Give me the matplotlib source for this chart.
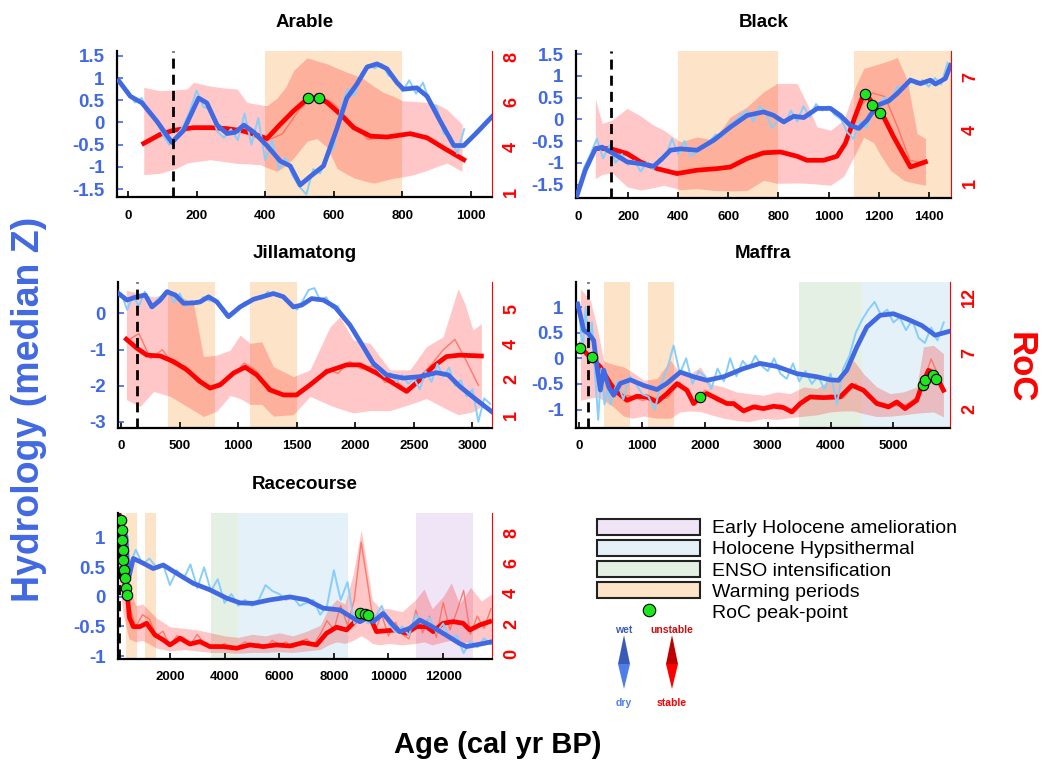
import numpy as np
import matplotlib.pyplot as plt
from matplotlib.patches import Patch, Polygon
from matplotlib.lines import Line2D
from matplotlib.ticker import FuncFormatter

plt.rcParams['font.family'] = ['Liberation Sans', 'DejaVu Sans']
plt.rcParams['font.weight'] = 'bold'
plt.rcParams['axes.unicode_minus'] = False

BLUE = '#4169E1'
SKY = '#87CEFA'
RED = '#FF0000'
RED_RAW = '#FF6A5A'
GREEN = '#1EE61E'
C_WARM = '#FDE4C8'
C_ENSO = '#E5F0E4'
C_HYPS = '#E4F1F8'
C_EARLY = '#F0E4F7'

# climate periods (cal yr BP)
warming = [(400, 800), (1100, 1500)]
enso = (3500, 4500)
hypsithermal = (4500, 8500)
early_holocene = (11000, 13100)
settlement = 130

# ---------------- Arable ----------------
arable_hyd_x = [-27, 7, 41, 85, 128, 162, 206, 230, 260, 289, 313, 338, 367, 405, 444, 473, 502,
                531, 570, 609, 638, 667, 697, 726, 755, 784, 803, 842, 872, 911, 950, 979, 1018, 1061]
arable_hyd = [0.94, 0.59, 0.44, 0.02, -0.45, -0.18, 0.55, 0.44, -0.06, -0.25, -0.22, -0.06, -0.22,
              -0.52, -0.87, -0.98, -1.41, -1.22, -0.98, -0.14, 0.55, 0.86, 1.25, 1.32, 1.21, 0.9,
              0.75, 0.78, 0.59, 0.02, -0.52, -0.52, -0.22, 0.13]
arable_raw_x = np.arange(0, 1000, 20)
arable_raw = [0.72, 0.45, 0.55, 0.22, 0.1, -0.25, -0.5, -0.3, -0.1, 0.25, 0.72, 0.35, 0.3, -0.2,
              -0.35, -0.15, -0.4, 0.2, -0.5, 0.1, -0.85, -0.4, -1.05, -0.8, -1.2, -1.45, -1.62,
              -1.05, -1.15, -0.8, -0.55, 0.3, 0.75, 0.6, 1.1, 1.3, 1.22, 1.32, 1.05, 1.0, 0.7, 0.95,
              0.65, 0.9, 0.45, 0.35, -0.25, -0.3, -0.7, -0.15]
arable_roc_x = [46, 94, 133, 191, 240, 289, 337, 376, 405, 444, 483, 522, 551, 580, 619, 658, 707,
                755, 823, 872, 920, 979]
arable_roc = [3.79, 4.27, 4.49, 4.63, 4.63, 4.58, 4.45, 4.23, 4.05, 4.81, 5.53, 6.15, 6.24, 5.98,
              5.35, 4.63, 4.18, 4.13, 4.31, 4.09, 3.55, 2.92]
arable_rocraw_x = np.arange(50, 1000, 50)
arable_rocraw = [3.8, 4.25, 4.6, 4.65, 4.6, 4.5, 4.3, 3.9, 4.3, 5.6, 6.45, 5.9, 4.9, 4.0, 4.15,
                 4.3, 4.25, 3.8, 3.2]
arable_band_x = [46, 94, 140, 172, 191, 240, 280, 318, 347, 386, 405, 434, 460, 483, 522, 550, 580,
                 610, 638, 660, 687, 716, 745, 775, 800, 833, 872, 900, 930, 974]
arable_band_hi = [6.78, 6.6, 6.65, 6.69, 7.05, 6.85, 6.75, 6.69, 5.98, 5.85, 5.8, 6.2, 6.8, 7.68,
                  8.36, 8.2, 8.04, 7.8, 7.59, 7.45, 7.23, 6.85, 6.51, 6.3, 6.07, 6.03, 5.98, 5.9,
                  5.6, 4.81]
arable_band_lo = [2.12, 2.2, 2.45, 2.74, 2.8, 2.92, 2.82, 2.72, 2.7, 2.65, 2.5, 2.3, 2.6, 3.01,
                  3.9, 4.05, 3.6, 2.45, 2.15, 1.94, 1.8, 1.67, 1.8, 1.94, 2.0, 2.12, 2.35, 2.55,
                  2.74, 2.3]
arable_peak_x = [525, 556]
arable_peak = [6.2, 6.2]

# ---------------- Black ----------------
black_hyd_x = [-4, 29, 69, 96, 142, 196, 249, 302, 335, 369, 409, 475, 542, 608, 675, 741, 781,
               821, 861, 901, 955, 1008, 1047, 1087, 1121, 1154, 1194, 1240, 1274, 1327, 1367,
               1407, 1427, 1467, 1487]
black_hyd = [-1.75, -1.17, -0.68, -0.64, -0.79, -0.98, -1.02, -1.08, -0.91, -0.71, -0.68, -0.71,
             -0.48, -0.18, 0.09, 0.17, 0.09, -0.06, 0.07, 0.04, 0.25, 0.25, 0.09, -0.14, -0.21,
             -0.02, 0.32, 0.42, 0.59, 0.9, 0.82, 0.9, 0.81, 0.94, 1.24]
black_raw_x = np.arange(0, 1500, 25)
black_raw = [-1.6, -1.1, -0.8, -0.45, -0.9, -0.6, -1.0, -0.8, -1.05, -0.95, -1.2, -1.0, -1.15,
             -0.9, -0.85, -0.45, -0.8, -0.5, -0.85, -0.75, -0.6, -0.5, -0.35, -0.4, -0.15, -0.05,
             0.1, 0.2, -0.05, 0.3, 0.15, -0.2, 0.0, -0.1, 0.2, -0.05, 0.3, 0.05, 0.35, 0.2, 0.3,
             0.1, 0.0, -0.3, -0.45, -0.05, -0.2, 0.15, 0.35, 0.5, 0.45, 0.75, 0.7, 0.95, 0.8, 0.9,
             0.75, 0.95, 0.8, 1.3]
black_roc_x = [69, 129, 196, 249, 315, 395, 475, 555, 608, 675, 741, 808, 874, 914, 981, 1034,
               1067, 1101, 1141, 1154, 1180, 1220, 1260, 1327, 1387]
black_roc = [2.96, 2.96, 2.68, 2.21, 1.83, 1.55, 1.74, 1.83, 1.92, 2.40, 2.72, 2.77, 2.53, 2.30,
             2.30, 2.53, 3.25, 4.57, 6.08, 5.98, 5.42, 4.75, 3.62, 1.92, 2.21]
black_rocraw_x = np.arange(75, 1400, 50)
black_rocraw = [3.0, 3.05, 2.7, 2.35, 1.95, 1.75, 1.6, 1.55, 1.75, 1.8, 1.9, 2.0, 2.45, 2.7, 2.8,
                2.65, 2.5, 2.3, 2.25, 2.5, 3.4, 5.3, 6.1, 5.9, 4.2, 2.3, 2.15]
black_band_x = [69, 96, 136, 196, 250, 300, 342, 409, 475, 542, 608, 675, 741, 795, 874, 914, 954,
                1008, 1061, 1107, 1141, 1180, 1207, 1247, 1274, 1300, 1314, 1354, 1387]
black_band_hi = [5.79, 4.38, 4.57, 5.23, 4.8, 4.3, 4.0, 3.34, 3.62, 3.45, 4.75, 5.32, 6.17, 6.64,
                 6.64, 5.51, 4.19, 4.0, 4.57, 6.45, 7.49, 7.65, 7.77, 7.95, 8.11, 7.3, 6.83, 3.81,
                 3.53]
black_band_lo = [1.26, 1.5, 1.6, 0.8, 0.62, 0.75, 0.89, 0.64, 0.7, 0.6, 0.57, 0.6, 1.17, 1.0, 1.02,
                 1.0, 0.96, 0.89, 1.4, 2.65, 3.6, 3.3, 2.6, 1.74, 1.45, 1.17, 1.1, 0.98, 0.89]
black_peak_x = [1147, 1174, 1207]
black_peak = [6.02, 5.42, 4.98]

# ---------------- Jillamatong ----------------
jill_hyd_x = [-23, 48, 134, 205, 262, 333, 390, 461, 532, 617, 674, 745, 816, 916, 1015, 1129,
              1299, 1385, 1470, 1541, 1626, 1726, 1825, 1953, 2067, 2152, 2266, 2408, 2550, 2692,
              2792, 2891, 3033, 3161]
jill_hyd = [0.55, 0.37, 0.46, 0.51, 0.18, 0.37, 0.6, 0.51, 0.28, 0.29, 0.32, 0.46, 0.32, -0.09,
            0.18, 0.39, 0.55, 0.46, 0.18, 0.23, 0.41, 0.37, 0.18, -0.32, -0.92, -1.38, -1.7, -1.79,
            -1.75, -1.64, -1.7, -2.02, -2.39, -2.71]
jill_raw_x = np.arange(0, 3200, 50)
jill_raw = [0.55, 0.1, 0.5, 0.2, 0.6, 0.15, 0.35, 0.5, 0.65, 0.3, 0.55, 0.2, 0.35, 0.25, 0.45, 0.35,
            0.4, 0.15, -0.1, 0.05, 0.1, 0.3, 0.35, 0.45, 0.4, 0.6, 0.5, 0.55, 0.35, 0.3, 0.1, 0.35,
            0.65, 0.7, 0.35, 0.45, 0.15, 0.2, -0.15, -0.3, -0.5, -0.85, -1.2, -1.35, -1.6, -1.75,
            -1.65, -1.9, -1.7, -1.95, -1.8, -2.1, -1.6, -1.9, -1.4, -1.75, -1.5, -2.0, -1.85, -2.3,
            -2.1, -3.0, -2.35, -2.5]
jill_roc_x = [43, 134, 219, 333, 446, 560, 674, 759, 844, 958, 1058, 1157, 1271, 1385, 1498, 1612,
              1754, 1925, 2039, 2181, 2323, 2437, 2550, 2664, 2778, 2891, 3076]
jill_roc = [3.76, 3.45, 3.22, 3.19, 3.0, 2.72, 2.32, 2.1, 2.21, 2.61, 2.81, 2.55, 2.04, 1.87, 1.87,
            2.21, 2.66, 2.89, 2.89, 2.61, 2.27, 1.99, 2.38, 2.83, 3.17, 3.22, 3.19]
jill_rocraw_x = np.arange(50, 3100, 100)
jill_rocraw = [3.7, 3.95, 3.1, 3.4, 2.9, 2.85, 2.3, 2.15, 2.3, 2.5, 2.95, 2.7, 2.0, 1.95, 1.8, 2.1,
               2.25, 2.75, 2.6, 3.0, 2.75, 2.85, 2.3, 2.35, 1.95, 2.5, 2.9, 3.4, 3.75, 3.0, 2.2]
jill_band_x = [43, 162, 276, 418, 560, 617, 702, 816, 930, 1015, 1100, 1200, 1299, 1470, 1612,
               1783, 1868, 1982, 2124, 2295, 2465, 2607, 2749, 2877, 2934, 3005, 3076]
jill_band_hi = [5.42, 5.31, 5.19, 5.36, 5.1, 4.97, 3.17, 3.22, 3.39, 3.9, 3.62, 3.67, 2.83, 2.49,
                2.72, 4.18, 4.52, 3.73, 3.62, 2.72, 2.72, 3.51, 3.84, 5.47, 4.97, 4.07, 4.29]
jill_band_lo = [1.71, 1.48, 1.99, 1.82, 1.48, 1.35, 1.14, 1.32, 1.85, 1.75, 1.55, 1.55, 1.15, 1.2,
                1.82, 1.52, 1.4, 1.26, 1.34, 1.34, 1.55, 1.75, 1.45, 1.2, 1.24, 1.3, 1.48]
jill_peak_x = []
jill_peak = []

# ---------------- Maffra ----------------
maffra_hyd_x = [-27, 69, 148, 228, 281, 334, 387, 467, 546, 652, 811, 1023, 1235, 1394, 1607, 1819,
                2031, 2296, 2614, 2879, 3144, 3462, 3780, 3992, 4125, 4258, 4417, 4576, 4788, 4999,
                5212, 5451, 5663, 5901]
maffra_hyd = [1.06, 0.55, 0.48, 0.35, -0.17, -0.62, -0.23, -0.56, -0.72, -0.49, -0.42, -0.53,
              -0.61, -0.49, -0.27, -0.36, -0.43, -0.36, -0.2, -0.1, -0.16, -0.3, -0.36, -0.42,
              -0.43, -0.23, 0.22, 0.61, 0.84, 0.87, 0.77, 0.64, 0.45, 0.53]
maffra_raw_x = list(range(0, 500, 50)) + list(range(500, 5900, 100))
maffra_raw = [0.9, 0.1, 1.0, 0.2, 0.7, -0.3, -1.2, -0.2, -0.9, -0.6, -0.9, -0.45, -0.8, -0.35,
              -0.5, -0.7, -0.75, -1.0, -0.5, -0.2, 0.25, -0.3, 0.0, -0.5, -0.25, -0.35, -0.6, -0.2,
              -0.45, 0.0, -0.35, -0.05, -0.2, 0.05, -0.15, -0.25, 0.0, -0.3, -0.4, -0.1, -0.45,
              -0.25, -0.5, -0.35, -0.6, -0.3, -0.9, -0.2, 0.05, 0.5, 0.75, 0.95, 1.1, 0.85, 0.95,
              0.7, 0.8, 0.55, 0.75, 0.4, 0.3, 0.6, 0.35, 0.7]
maffra_roc_x = [16, 201, 334, 493, 599, 758, 917, 1076, 1235, 1395, 1554, 1713, 1819, 1925, 2031,
                2190, 2349, 2455, 2614, 2773, 2932, 3091, 3250, 3383, 3515, 3674, 3886, 4152, 4337,
                4523, 4735, 4921, 5053, 5186, 5371, 5451, 5557, 5663, 5796]
maffra_roc = [7.5, 6.52, 5.78, 4.29, 3.55, 2.8, 3.16, 3.1, 2.65, 3.4, 4.29, 3.7, 2.51, 3.1, 3.4,
              2.95, 2.51, 2.51, 1.85, 2.21, 2.06, 2.27, 2.15, 1.76, 2.51, 3.1, 3.04, 3.1, 4.14, 3.7,
              2.51, 2.21, 2.65, 2.06, 2.8, 4.14, 5.48, 5.18, 3.7]
maffra_rocraw_x = np.arange(0, 5900, 200)
maffra_rocraw = [8.0, 6.2, 5.4, 3.3, 3.2, 2.8, 3.0, 3.0, 4.4, 2.6, 3.7, 2.7, 2.6, 1.8, 2.4, 2.0,
                 2.4, 1.7, 3.1, 2.9, 3.3, 3.0, 4.3, 3.0, 2.6, 2.3, 2.4, 3.2, 6.5, 3.9]
maffra_band_x = [16, 175, 281, 387, 546, 700, 850, 1023, 1235, 1448, 1607, 1750, 1925, 2100, 2296,
                 2500, 2700, 2932, 3144, 3356, 3568, 3780, 3992, 4204, 4363, 4523, 4735, 4947,
                 5159, 5371, 5477, 5637, 5796]
maffra_band_hi = [12.77, 11.73, 9.35, 6.3, 6.0, 5.8, 5.3, 4.59, 4.74, 6.38, 5.2, 5.1, 5.78, 4.25,
                  3.99, 3.55, 3.4, 3.25, 3.55, 3.4, 3.99, 3.85, 4.59, 4.89, 6.38, 5.18, 3.99, 3.4,
                  3.55, 3.99, 7.57, 7.71, 6.97]
maffra_band_lo = [2.8, 3.0, 3.1, 2.8, 2.21, 1.4, 1.2, 1.4, 1.2, 1.2, 1.76, 1.85, 1.8, 1.5, 1.2, 1.0,
                  0.9, 1.17, 1.1, 1.25, 1.38, 1.5, 1.76, 1.85, 1.85, 1.61, 1.35, 1.38, 1.5, 1.65,
                  1.7, 1.76, 1.32]
maffra_peak_x = [16, 201, 1925, 5467, 5504, 5637, 5679]
maffra_peak = [7.5, 6.67, 3.1, 4.14, 4.59, 5.04, 4.74]

# ---------------- Racecourse ----------------
race_hyd_x = [146, 268, 390, 476, 659, 1024, 1390, 1756, 2244, 2854, 3463, 4073, 4561, 5049, 5659,
              6390, 7000, 7610, 8220, 8707, 8951, 9195, 9439, 9805, 10171, 10415, 10780, 11146,
              11512, 12122, 12610, 12854, 13341, 13768]
race_hyd = [1.19, 1.14, 1.02, 0.29, 0.65, 0.57, 0.48, 0.54, 0.4, 0.23, 0.12, -0.02, -0.1, -0.11,
            -0.05, 0.0, -0.05, -0.19, -0.22, -0.36, -0.42, -0.36, -0.42, -0.28, -0.48, -0.59,
            -0.53, -0.39, -0.48, -0.65, -0.79, -0.84, -0.8, -0.76]
race_raw_x = [120] + list(range(250, 14000, 250))
race_raw = [1.3, 0.9, 0.5, 0.8, 0.55, 0.65, 0.5, 0.55, 0.2, 0.45, 0.3, 0.55, 0.15, 0.5, 0.1, 0.3,
            -0.1, 0.05, -0.15, -0.05, -0.15, -0.05, 0.2, 0.1, 0.05, -0.05, 0.0, -0.15, -0.1, -0.05,
            -0.3, -0.15, 0.45, -0.05, 0.25, -0.45, -0.3, -0.45, -0.35, -0.15, -0.45, -0.6, -0.5,
            -0.65, -0.3, -0.45, -0.35, -0.6, -0.45, -0.7, -0.65, -0.95, -0.75, -0.85, -0.7, -0.8]
race_roc_x = [150, 195, 268, 354, 439, 520, 659, 902, 1146, 1451, 1756, 2000, 2366, 2732, 3098,
              3463, 3951, 4439, 4927, 5415, 5902, 6390, 6878, 7366, 7732, 8098, 8463, 8829, 9073,
              9317, 9561, 9927, 10293, 10659, 11024, 11390, 11634, 12000, 12366, 12732, 12976,
              13341, 13707]
race_roc = [9.2, 8.87, 6.89, 5.0, 3.91, 2.4, 1.81, 1.81, 2.03, 1.26, 0.93, 0.6, 1.04, 0.66, 0.82,
            0.49, 0.49, 0.38, 0.6, 0.49, 0.6, 0.53, 0.75, 0.6, 1.37, 1.77, 1.59, 2.25, 2.69, 2.47,
            1.48, 1.54, 1.59, 1.37, 1.81, 1.81, 1.48, 2.03, 2.14, 2.03, 1.59, 1.92, 2.14]
race_rocraw_x = [150] + list(range(250, 14000, 250))
race_rocraw = [9.0, 6.5, 3.2, 1.8, 2.6, 2.3, 1.2, 1.5, 0.5, 1.2, 1.1, 0.6, 1.3, 0.7, 0.5, 0.4, 0.7,
               0.3, 0.5, 0.8, 0.5, 0.7, 0.4, 0.9, 0.6, 0.8, 0.4, 0.8, 1.0, 0.6, 1.3, 2.2, 1.6, 3.2,
               1.9, 3.6, 7.4, 4.5, 1.5, 2.6, 1.2, 2.1, 1.3, 1.0, 2.9, 1.4, 2.5, 1.1, 3.4, 1.6, 2.8,
               4.2, 1.3, 2.5, 1.7, 3.0]
race_band_x = [150, 300, 500, 750, 1000, 1500, 2000, 2500, 3000, 3500, 4000, 4500, 5000, 5500,
               6000, 6500, 7000, 7500, 7800, 8100, 8400, 8700, 9000, 9200, 9400, 9700, 10000,
               10500, 11000, 11300, 11600, 12000, 12300, 12600, 13000, 13400, 13800]
race_band_hi = [9.3, 8.0, 4.5, 3.2, 3.3, 2.4, 1.8, 1.7, 1.6, 1.4, 1.2, 1.1, 1.3, 1.2, 1.4, 1.2, 1.5,
                1.9, 3.0, 3.6, 3.3, 5.2, 8.2, 6.0, 3.6, 3.0, 3.0, 2.8, 3.6, 4.3, 3.0, 3.8, 4.7, 3.3,
                4.4, 3.5, 4.0]
race_band_lo = [4.5, 2.5, 1.0, 0.8, 0.9, 0.4, 0.2, 0.3, 0.2, 0.1, 0.1, 0.05, 0.1, 0.1, 0.15, 0.1,
                0.2, 0.3, 0.6, 0.8, 0.7, 0.9, 1.2, 1.0, 0.7, 0.6, 0.7, 0.6, 0.7, 0.8, 0.6, 0.8, 0.9,
                0.7, 0.8, 0.7, 0.9]
race_peak_x = [195, 232, 256, 268, 293, 317, 354, 390, 439, 8951, 9134, 9256]
race_peak = [8.87, 8.21, 7.55, 6.89, 6.23, 5.56, 5.0, 4.35, 3.91, 2.69, 2.65, 2.58]

panels = [
    dict(name='Arable', rect=[0.1114, 0.7428, 0.3571, 0.1906], xlim=(-32, 1061),
         xticks=range(0, 1001, 200), ylim=(-1.68, 1.61), yticks=[-1.5, -1, -0.5, 0, 0.5, 1, 1.5],
         rlim=(0.93, 8.72), rticks=[1.2, 3.6, 6.0, 8.4],
         hyd=(arable_hyd_x, arable_hyd), raw=(arable_raw_x, arable_raw),
         roc=(arable_roc_x, arable_roc), rocraw=(arable_rocraw_x, arable_rocraw),
         band=(arable_band_x, arable_band_lo, arable_band_hi), peak=(arable_peak_x, arable_peak)),
    dict(name='Black', rect=[0.5486, 0.7415, 0.3571, 0.1919], xlim=(-8, 1489),
         xticks=range(0, 1401, 200), ylim=(-1.81, 1.57), yticks=[-1.5, -1, -0.5, 0, 0.5, 1, 1.5],
         rlim=(0.17, 8.47), rticks=[1, 4, 7],
         hyd=(black_hyd_x, black_hyd), raw=(black_raw_x, black_raw),
         roc=(black_roc_x, black_roc), rocraw=(black_rocraw_x, black_rocraw),
         band=(black_band_x, black_band_lo, black_band_hi), peak=(black_peak_x, black_peak)),
    dict(name='Jillamatong', rect=[0.1124, 0.4413, 0.3562, 0.1906], xlim=(-28, 3167),
         xticks=range(0, 3001, 500), ylim=(-3.17, 0.87), yticks=[-3, -2, -1, 0],
         rlim=(0.75, 5.7), rticks=[1.2, 2.4, 3.6, 4.8],
         hyd=(jill_hyd_x, jill_hyd), raw=(jill_raw_x, jill_raw),
         roc=(jill_roc_x, jill_roc), rocraw=(jill_rocraw_x, jill_rocraw),
         band=(jill_band_x, jill_band_lo, jill_band_hi), peak=(jill_peak_x, jill_peak)),
    dict(name='Maffra', rect=[0.5486, 0.4413, 0.3562, 0.1906], xlim=(-53, 5901),
         xticks=range(0, 5001, 1000), ylim=(-1.36, 1.49), yticks=[-1, -0.5, 0, 0.5, 1],
         rlim=(0.33, 13.37), rticks=[2, 7, 12],
         hyd=(maffra_hyd_x, maffra_hyd), raw=(maffra_raw_x, maffra_raw),
         roc=(maffra_roc_x, maffra_roc), rocraw=(maffra_rocraw_x, maffra_rocraw),
         band=(maffra_band_x, maffra_band_lo, maffra_band_hi), peak=(maffra_peak_x, maffra_peak)),
    dict(name='Racecourse', rect=[0.1124, 0.1397, 0.3562, 0.1906], xlim=(100, 13790),
         xticks=range(2000, 12001, 2000), ylim=(-1.05, 1.42), yticks=[-1, -0.5, 0, 0.5, 1],
         rlim=(-0.33, 9.32), rticks=[0, 2, 4, 6, 8],
         hyd=(race_hyd_x, race_hyd), raw=(race_raw_x, race_raw),
         roc=(race_roc_x, race_roc), rocraw=(race_rocraw_x, race_rocraw),
         band=(race_band_x, race_band_lo, race_band_hi), peak=(race_peak_x, race_peak)),
]

fig = plt.figure(figsize=(10.5, 7.66), dpi=100)

for p in panels:
    ax = fig.add_axes(p['rect'])
    ax2 = ax.twinx()   # RoC scale, shading and uncertainty band
    ax3 = ax.twinx()   # RoC scale, lines on top
    ax2.set_zorder(1)
    ax.set_zorder(2)
    ax3.set_zorder(3)
    for a in (ax, ax2, ax3):
        a.patch.set_visible(False)

    # climate periods
    for lo, hi in warming:
        ax2.axvspan(lo, hi, color=C_WARM, lw=0, zorder=0)
    ax2.axvspan(*enso, color=C_ENSO, lw=0, zorder=0)
    ax2.axvspan(*hypsithermal, color=C_HYPS, lw=0, zorder=0)
    ax2.axvspan(*early_holocene, color=C_EARLY, lw=0, zorder=0)

    bx, blo, bhi = p['band']
    ax2.fill_between(bx, blo, bhi, color=RED, alpha=0.22, lw=0, zorder=1)
    ax2.plot(*p['rocraw'], color=RED_RAW, lw=1, alpha=0.85, zorder=2)
    ax2.plot(*p['roc'], color=RED, lw=3.4, zorder=3, solid_joinstyle='round')

    ax.plot(*p['raw'], color=SKY, lw=1.4, zorder=2)
    ax.plot(*p['hyd'], color=BLUE, lw=3.4, zorder=3, solid_joinstyle='round')

    ax3.axvline(settlement, color='black', lw=2, dashes=(3.6, 2.2), zorder=4)
    px, py = p['peak']
    if px:
        ax3.plot(px, py, 'o', ms=7.5, mfc=GREEN, mec='black', mew=0.8, zorder=5)

    ax.set_xlim(p['xlim'])
    ax.set_ylim(p['ylim'])
    ax2.set_ylim(p['rlim'])
    ax3.set_ylim(p['rlim'])
    ax3.axis('off')

    ax.set_xticks(list(p['xticks']))
    ax.set_yticks(p['yticks'])
    ax.yaxis.set_major_formatter(FuncFormatter(lambda v, pos: f'{v:g}'))
    ax.tick_params(axis='x', direction='in', length=4, width=1.2, labelsize=9.5, pad=9)
    ax.tick_params(axis='y', direction='in', length=4, width=1.2, color=BLUE,
                   labelcolor=BLUE, labelsize=13.5, pad=9)
    for s in ('top', 'right'):
        ax.spines[s].set_visible(False)
    for s in ('left', 'bottom'):
        ax.spines[s].set_linewidth(1.6)

    ax2.set_yticks(p['rticks'])
    ax2.set_yticklabels([str(int(round(t))) for t in p['rticks']])
    ax2.tick_params(axis='y', length=0, labelcolor=RED, labelsize=13, pad=8, labelrotation=90)
    for t in ax2.get_yticklabels():
        t.set_va('center')
    for s in ('left', 'top', 'bottom'):
        ax2.spines[s].set_visible(False)
    ax2.spines['right'].set_color(RED)
    ax2.spines['right'].set_linewidth(0.8)

    ax.set_title(p['name'], fontsize=13.5, fontweight='bold', pad=17)

fig.text(0.028, 0.465, 'Hydrology (median Z)', rotation=90, color=BLUE, fontsize=27,
         fontweight='bold', ha='center', va='center')
fig.text(0.972, 0.52, 'RoC', rotation=-90, color=RED, fontsize=25, fontweight='bold',
         ha='center', va='center')
fig.text(0.474, 0.027, 'Age (cal yr BP)', color='black', fontsize=21, fontweight='bold',
         ha='center', va='center')

# legend for periods and peak points
handles = [Patch(facecolor=C_EARLY, edgecolor='#222222', lw=1.5),
           Patch(facecolor=C_HYPS, edgecolor='#222222', lw=1.5),
           Patch(facecolor=C_ENSO, edgecolor='#222222', lw=1.5),
           Patch(facecolor=C_WARM, edgecolor='#222222', lw=1.5),
           Line2D([], [], ls='none', marker='o', ms=9, mfc=GREEN, mec='black', mew=0.8)]
labels = ['Early Holocene amelioration', 'Holocene Hypsithermal', 'ENSO intensification',
          'Warming periods', 'RoC peak-point']
fig.legend(handles, labels, loc='upper left', bbox_to_anchor=(597 / 1050, 1 - 519 / 766),
           frameon=False, borderpad=0, borderaxespad=0, handlelength=5.3, handleheight=0.85,
           handletextpad=0.6, labelspacing=0.13, prop={'size': 14, 'weight': 'normal'})

# direction key
key = fig.add_axes([0, 0, 1, 1])
key.set_xlim(0, 1050)
key.set_ylim(766, 0)
key.axis('off')
for cx, top_c, bot_c in ((624, '#3A5BB3', '#4F7DEB'), (672, '#C00000', '#FF0000')):
    key.add_patch(Polygon([(cx, 635), (cx - 6, 664), (cx + 6, 664)], closed=True,
                          facecolor=top_c, edgecolor='none'))
    key.add_patch(Polygon([(cx - 6, 664), (cx + 6, 664), (cx, 689)], closed=True,
                          facecolor=bot_c, edgecolor='none'))
key.text(624, 630, 'wet', color='#3A5BB3', fontsize=7.5, ha='center', va='center')
key.text(624, 703, 'dry', color='#4F7DEB', fontsize=7.5, ha='center', va='center')
key.text(672, 630, 'unstable', color='#C81010', fontsize=7.5, ha='center', va='center')
key.text(672, 703, 'stable', color='#FF0000', fontsize=7.5, ha='center', va='center')

fig.savefig('out.png', dpi=100)
